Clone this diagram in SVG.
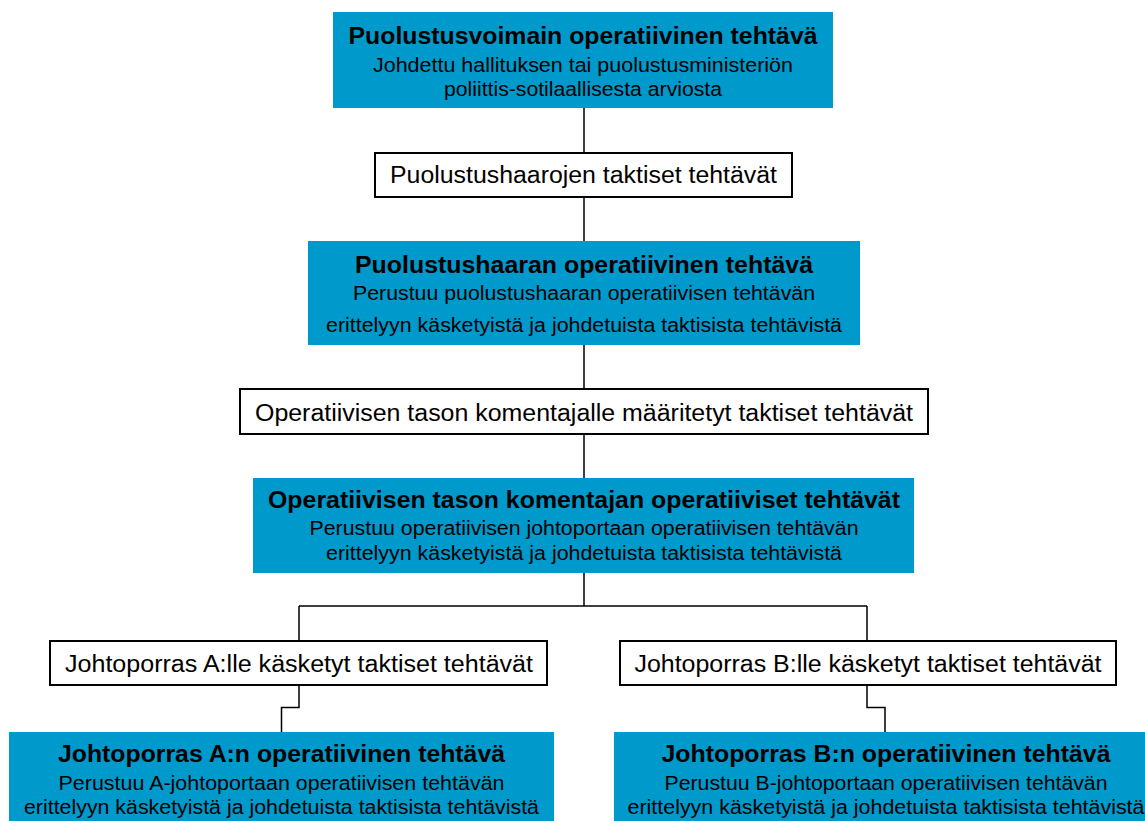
<svg xmlns="http://www.w3.org/2000/svg" width="1145" height="821" viewBox="0 0 1145 821">
<style>
.blue{fill:#0099cc;stroke:none}
.white{fill:#ffffff;stroke:#000000;stroke-width:2}
.t{font-family:"Liberation Sans",Arial,sans-serif;fill:#000000;text-anchor:middle}
.b{font-weight:bold;font-size:23px}
.s{font-size:20px}
.w{font-size:23px}
.conn{fill:none;stroke:#000000;stroke-width:1.5}
</style>
<rect width="1145" height="821" fill="#ffffff"/>
<g id="connectors">
<path class="conn" d="M584,108 V153 M584,197 V241 M584,345 V389 M584,434 V478 M584,573 V606 M299,606 H867 M299,606 V641 M867,606 V641 M299,686 V707.5 H281.5 V732 M867,686 V707.5 H885 V732"/>
</g>
<g id="n1">
<rect class="blue" x="333" y="12" width="500" height="96"/>
<text class="t b" x="583" y="44" textLength="469" lengthAdjust="spacingAndGlyphs">Puolustusvoimain operatiivinen tehtävä</text>
<text class="t s" x="583" y="72" textLength="420" lengthAdjust="spacingAndGlyphs">Johdettu hallituksen tai puolustusministeriön</text>
<text class="t s" x="583" y="96" textLength="278" lengthAdjust="spacingAndGlyphs">poliittis-sotilaallisesta arviosta</text>
</g>
<g id="n2">
<rect class="white" x="375" y="153" width="417" height="44"/>
<text class="t w" x="583.5" y="183" textLength="387" lengthAdjust="spacingAndGlyphs">Puolustushaarojen taktiset tehtävät</text>
</g>
<g id="n3">
<rect class="blue" x="308" y="241" width="552" height="104"/>
<text class="t b" x="584" y="273" textLength="458" lengthAdjust="spacingAndGlyphs">Puolustushaaran operatiivinen tehtävä</text>
<text class="t s" x="584" y="300" textLength="462" lengthAdjust="spacingAndGlyphs">Perustuu puolustushaaran operatiivisen tehtävän</text>
<text class="t s" x="584" y="332" textLength="516" lengthAdjust="spacingAndGlyphs">erittelyyn käsketyistä ja johdetuista taktisista tehtävistä</text>
</g>
<g id="n4">
<rect class="white" x="240" y="389" width="688" height="45"/>
<text class="t w" x="584" y="421" textLength="658" lengthAdjust="spacingAndGlyphs">Operatiivisen tason komentajalle määritetyt taktiset tehtävät</text>
</g>
<g id="n5">
<rect class="blue" x="253" y="478" width="661" height="95"/>
<text class="t b" x="584" y="508" textLength="632" lengthAdjust="spacingAndGlyphs">Operatiivisen tason komentajan operatiiviset tehtävät</text>
<text class="t s" x="584" y="535" textLength="549" lengthAdjust="spacingAndGlyphs">Perustuu operatiivisen johtoportaan operatiivisen tehtävän</text>
<text class="t s" x="584" y="560" textLength="516" lengthAdjust="spacingAndGlyphs">erittelyyn käsketyistä ja johdetuista taktisista tehtävistä</text>
</g>
<g id="n6">
<rect class="white" x="50" y="641" width="497" height="44"/>
<text class="t w" x="299" y="672" textLength="468" lengthAdjust="spacingAndGlyphs">Johtoporras A:lle käsketyt taktiset tehtävät</text>
</g>
<g id="n7">
<rect class="white" x="620" y="641" width="496" height="44"/>
<text class="t w" x="868" y="672" textLength="467" lengthAdjust="spacingAndGlyphs">Johtoporras B:lle käsketyt taktiset tehtävät</text>
</g>
<g id="n8">
<rect class="blue" x="9" y="732" width="545" height="95"/>
<text class="t b" x="281.5" y="762" textLength="447" lengthAdjust="spacingAndGlyphs">Johtoporras A:n operatiivinen tehtävä</text>
<text class="t s" x="281.5" y="790" textLength="446" lengthAdjust="spacingAndGlyphs">Perustuu A-johtoportaan operatiivisen tehtävän</text>
<text class="t s" x="281.5" y="814" textLength="515" lengthAdjust="spacingAndGlyphs">erittelyyn käsketyistä ja johdetuista taktisista tehtävistä</text>
</g>
<g id="n9">
<rect class="blue" x="614" y="732" width="545" height="95"/>
<text class="t b" x="886" y="762" textLength="449" lengthAdjust="spacingAndGlyphs">Johtoporras B:n operatiivinen tehtävä</text>
<text class="t s" x="886" y="790" textLength="443" lengthAdjust="spacingAndGlyphs">Perustuu B-johtoportaan operatiivisen tehtävän</text>
<text class="t s" x="886" y="814" textLength="517" lengthAdjust="spacingAndGlyphs">erittelyyn käsketyistä ja johdetuista taktisista tehtävistä</text>
</g>
</svg>
